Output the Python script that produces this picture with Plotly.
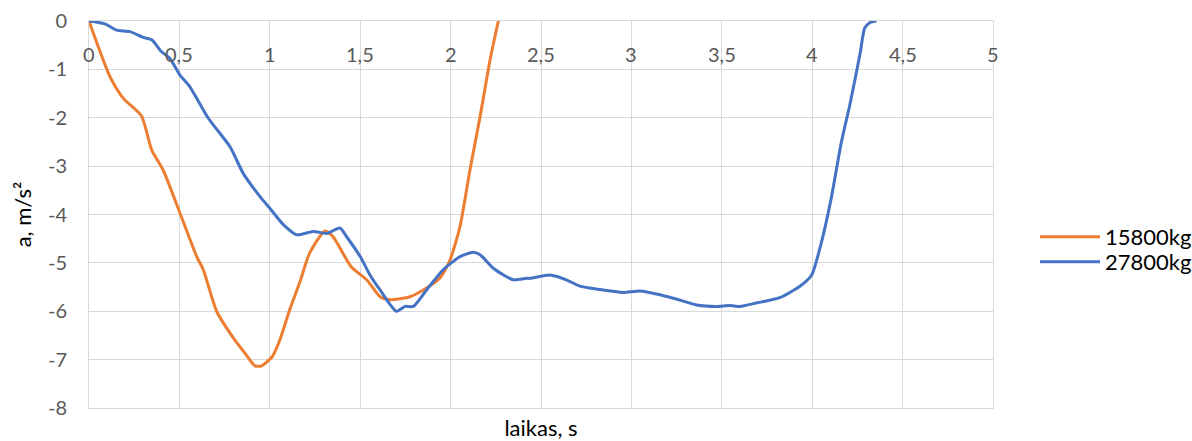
import plotly.graph_objects as go

# 15800kg series (orange)
t_15800 = [0, 0.116, 0.19, 0.29, 0.347, 0.41, 0.503, 0.596, 0.632, 0.706, 0.80, 0.863,
           0.918, 0.955, 1.015, 1.056, 1.11, 1.167, 1.22, 1.305, 1.35, 1.45, 1.536, 1.61,
           1.665, 1.775, 1.867, 1.94, 1.997, 2.052, 2.107, 2.163, 2.218, 2.264]
a_15800 = [0, -1.15, -1.6, -1.96, -2.67, -3.08, -3.97, -4.87, -5.14, -6.0, -6.56, -6.87,
           -7.13, -7.13, -6.93, -6.59, -5.97, -5.39, -4.8, -4.34, -4.46, -5.08, -5.35, -5.7,
           -5.76, -5.70, -5.52, -5.32, -4.94, -4.25, -3.08, -1.98, -0.81, 0]

# 27800kg series (blue)
t_27800 = [0, 0.088, 0.153, 0.227, 0.30, 0.347, 0.40, 0.447, 0.503, 0.558, 0.66, 0.78,
           0.853, 0.946, 1.0, 1.075, 1.149, 1.24, 1.315, 1.388, 1.425, 1.5, 1.554, 1.61,
           1.70, 1.748, 1.794, 1.867, 1.96, 2.052, 2.125, 2.163, 2.236, 2.347, 2.42, 2.44,
           2.55, 2.64, 2.715, 2.826, 2.955, 3.047, 3.158, 3.287, 3.36, 3.47, 3.545, 3.60,
           3.69, 3.82, 3.93, 3.997, 4.05, 4.107, 4.16, 4.21, 4.265, 4.29, 4.32, 4.355]
a_27800 = [0, -0.06, -0.19, -0.22, -0.34, -0.39, -0.63, -0.77, -1.12, -1.36, -2.01, -2.6,
           -3.15, -3.63, -3.87, -4.21, -4.42, -4.35, -4.39, -4.28, -4.46, -4.87, -5.25, -5.56,
           -6.0, -5.90, -5.90, -5.56, -5.14, -4.87, -4.78, -4.83, -5.11, -5.35, -5.32, -5.32,
           -5.25, -5.35, -5.48, -5.55, -5.61, -5.58, -5.66, -5.79, -5.87, -5.90, -5.88, -5.90,
           -5.83, -5.72, -5.49, -5.25, -4.59, -3.63, -2.53, -1.70, -0.67, -0.15, -0.03, 0]

x_ticks = [0, 0.5, 1, 1.5, 2, 2.5, 3, 3.5, 4, 4.5, 5]
x_tick_labels = ["0", "0,5", "1", "1,5", "2", "2,5", "3", "3,5", "4", "4,5", "5"]
y_ticks = [0, -1, -2, -3, -4, -5, -6, -7, -8]
y_tick_labels = ["0", "-1", "-2", "-3", "-4", "-5", "-6", "-7", "-8"]

FONT = "Lato"
GRID = "#d9d9d9"
TICKC = "#595959"

fig = go.Figure()
fig.add_trace(go.Scatter(x=t_15800, y=a_15800, mode="lines", name="15800kg", legend="legend",
                         line=dict(color="#ED7D31", width=3, shape="spline", smoothing=0.6)))
fig.add_trace(go.Scatter(x=t_27800, y=a_27800, mode="lines", name="27800kg", legend="legend2",
                         line=dict(color="#4472C4", width=3, shape="spline", smoothing=0.6)))

for xv, lab in zip(x_ticks, x_tick_labels):
    fig.add_annotation(x=xv, y=0, xref="x", yref="y", text=lab, showarrow=False,
                       yanchor="top", yshift=-19, font=dict(family=FONT, size=20, color=TICKC))

legend_common = dict(xref="container", yref="container", xanchor="left", yanchor="middle",
                     font=dict(family=FONT, size=22, color="#000000"), itemwidth=60,
                     bgcolor="rgba(0,0,0,0)")

fig.update_layout(
    width=1192, height=441,
    margin=dict(l=89, r=199, t=21, b=33),
    paper_bgcolor="white", plot_bgcolor="white",
    font=dict(family=FONT),
    showlegend=True,
    legend=dict(x=0.8683, y=0.4626, **legend_common),
    legend2=dict(x=0.8683, y=0.4059, **legend_common),
    xaxis=dict(range=[0, 5], tickvals=x_ticks, ticktext=x_tick_labels, showticklabels=False,
               showgrid=True, gridcolor=GRID, gridwidth=1, zeroline=False, automargin=False,
               showline=True, mirror=True, linecolor=GRID, linewidth=1,
               title=dict(text="laikas, s", standoff=14, font=dict(family=FONT, size=22, color="#000000"))),
    yaxis=dict(range=[-8, 0], tickvals=y_ticks, ticktext=y_tick_labels, automargin=False,
               showgrid=True, gridcolor=GRID, gridwidth=1, zeroline=False,
               showline=True, mirror=True, linecolor=GRID, linewidth=1,
               tickfont=dict(family=FONT, size=20, color=TICKC), ticklabelstandoff=17,
               title=dict(text="a, m/s²", standoff=10, font=dict(family=FONT, size=22, color="#000000"))),
)

fig.write_html("out.html", config={"displayModeBar": False},
               post_script="document.body.style.margin='0';")
